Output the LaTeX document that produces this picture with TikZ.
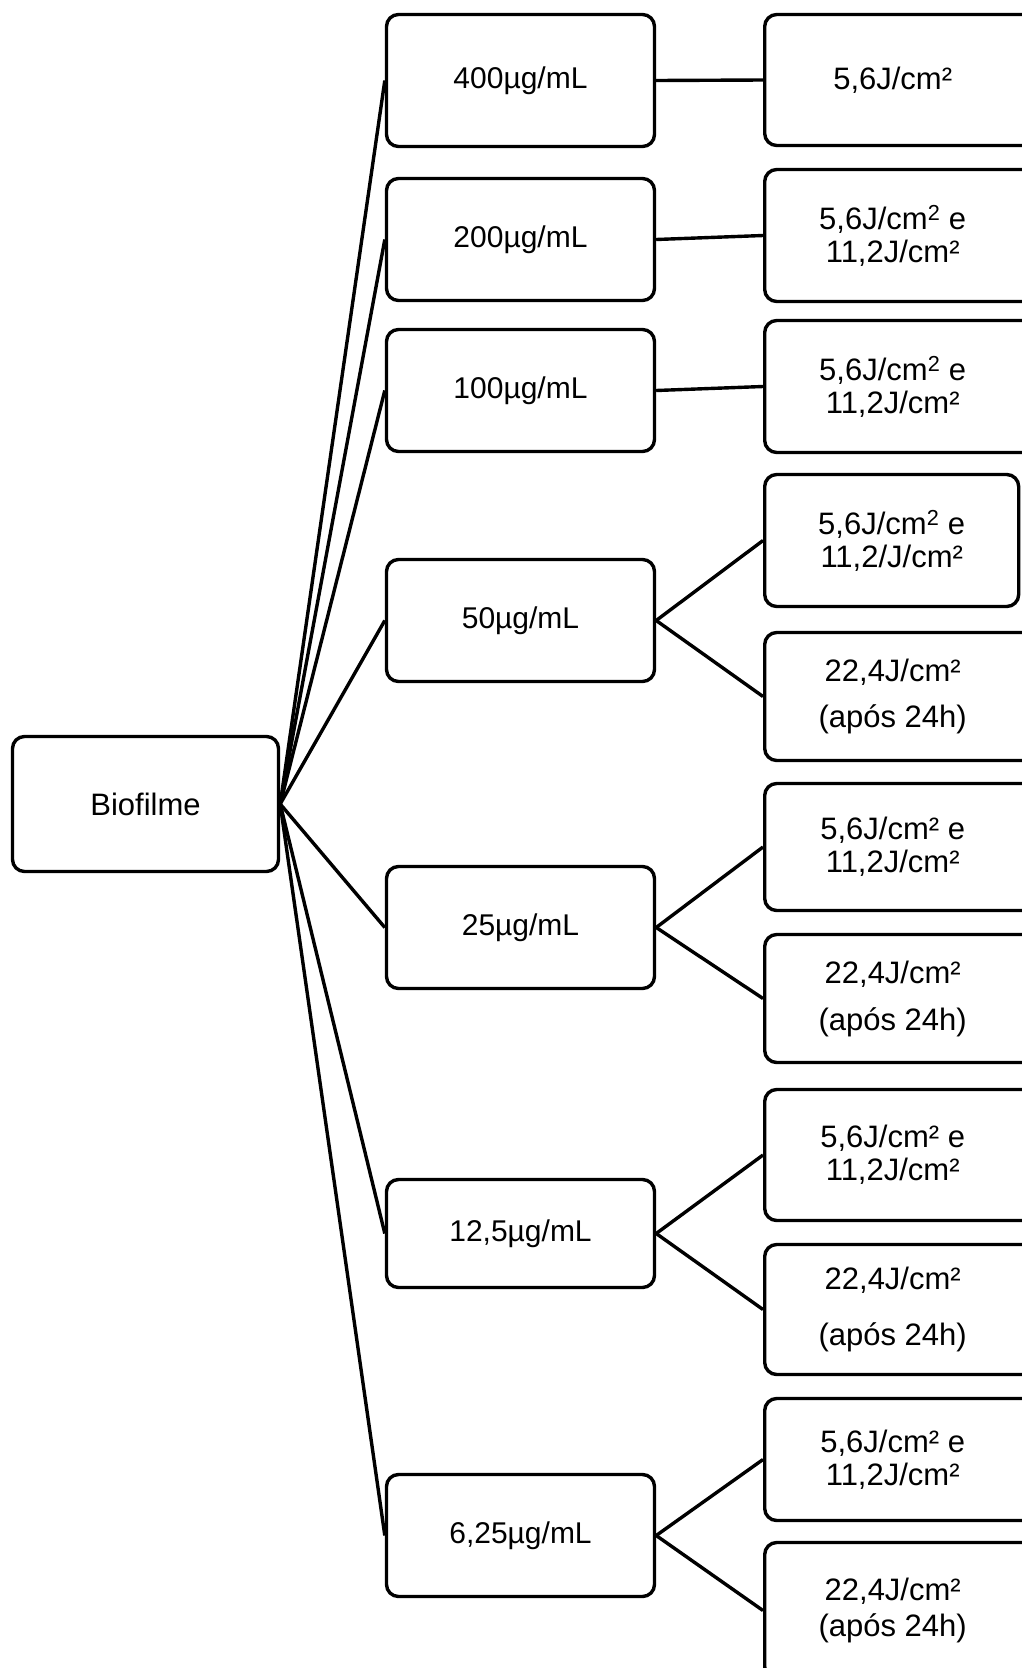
\documentclass[tikz,border=0pt]{standalone}
\usepackage{fontspec}
\setmainfont{Liberation Sans}

\tikzset{
  box/.style={draw, line width=3.4pt, rounded corners=12pt, inner sep=0pt,
    font=\fontsize{30}{33}\selectfont},
  conc/.style={box, minimum width=268pt, minimum height=122pt},
  dose/.style={box, anchor=west, minimum width=254pt, minimum height=130pt,
    font=\fontsize{31}{33}\selectfont},
  cut/.style={minimum width=280pt},
  link/.style={line width=3.4pt}
}
\newcommand{\dosetext}[1]{\parbox{232pt}{\centering #1}}
\newcommand{\cuttext}[1]{\dosetext{#1}\rule{24pt}{0pt}}

\begin{document}
\begin{tikzpicture}[x=1pt, y=-1pt]
    \useasboundingbox (0,0) rectangle (1022,1668);
    \clip (0,0) rectangle (1022,1668);

    % Biofilme
    \node[box, minimum width=266pt, minimum height=135pt,
      font=\fontsize{31}{33}\selectfont] (bio) at (145.5,804) {Biofilme};

    % Concentracoes
    \node[conc, minimum height=132pt] (m400) at (520.5,80.5) {400µg/mL};
    \node[conc] (m200) at (520.5,239.5) {200µg/mL};
    \node[conc] (m100) at (520.5,390.5) {100µg/mL};
    \node[conc] (m50) at (520.5,620.5) {50µg/mL};
    \node[conc] (m25) at (520.5,927.5) {25µg/mL};
    \node[conc, minimum height=108pt] (m125) at (520.5,1233.5) {12,5µg/mL};
    \node[conc] (m625) at (520.5,1535.5) {6,25µg/mL};

    % Doses de luz
    \node[dose, cut, minimum height=131pt] (r1) at (763,80) {\cuttext{5,6J/cm²}};
    \node[dose, cut, minimum height=132pt] (r2) at (763,235.5)
      {\cuttext{5,6J/cm\textsuperscript{2} e\\11,2J/cm²}};
    \node[dose, cut, minimum height=132pt] (r3) at (763,386.5)
      {\cuttext{5,6J/cm\textsuperscript{2} e\\11,2J/cm²}};
    \node[dose, minimum height=132pt] (r4) at (763,540.5)
      {\dosetext{5,6J/cm\textsuperscript{2} e\\11,2/J/cm²}};
    \node[dose, cut, minimum height=128pt] (r5) at (763,696.5)
      {\cuttext{22,4J/cm²\\[13pt](após 24h)}};
    \node[dose, cut, minimum height=127pt] (r6) at (763,847)
      {\cuttext{5,6J/cm² e\\11,2J/cm²}};
    \node[dose, cut, minimum height=128pt] (r7) at (763,998.5)
      {\cuttext{22,4J/cm²\\[14pt](após 24h)}};
    \node[dose, cut, minimum height=131pt] (r8) at (763,1155)
      {\cuttext{5,6J/cm² e\\11,2J/cm²}};
    \node[dose, cut] (r9) at (763,1309.5)
      {\cuttext{22,4J/cm²\\[23pt](após 24h)}};
    \node[dose, cut, minimum height=122pt] (r10) at (763,1459.5)
      {\cuttext{5,6J/cm² e\\11,2J/cm²}};
    \node[dose, cut, minimum height=136pt] (r11) at (763,1610.5)
      {\cuttext{22,4J/cm²\\[3pt](após 24h)}};

    % Ligacoes Biofilme -> concentracoes
    \draw[link] (bio.east) -- (m400.west);
    \draw[link] (bio.east) -- (m200.west);
    \draw[link] (bio.east) -- (m100.west);
    \draw[link] (bio.east) -- (m50.west);
    \draw[link] (bio.east) -- (m25.west);
    \draw[link] (bio.east) -- (m125.west);
    \draw[link] (bio.east) -- (m625.west);

    % Ligacoes concentracoes -> doses
    \draw[link] (m400.east) -- (r1.west);
    \draw[link] (m200.east) -- (r2.west);
    \draw[link] (m100.east) -- (r3.west);
    \draw[link] (m50.east) -- (r4.west);
    \draw[link] (m50.east) -- (r5.west);
    \draw[link] (m25.east) -- (r6.west);
    \draw[link] (m25.east) -- (r7.west);
    \draw[link] (m125.east) -- (r8.west);
    \draw[link] (m125.east) -- (r9.west);
    \draw[link] (m625.east) -- (r10.west);
    \draw[link] (m625.east) -- (r11.west);
\end{tikzpicture}
\end{document}
